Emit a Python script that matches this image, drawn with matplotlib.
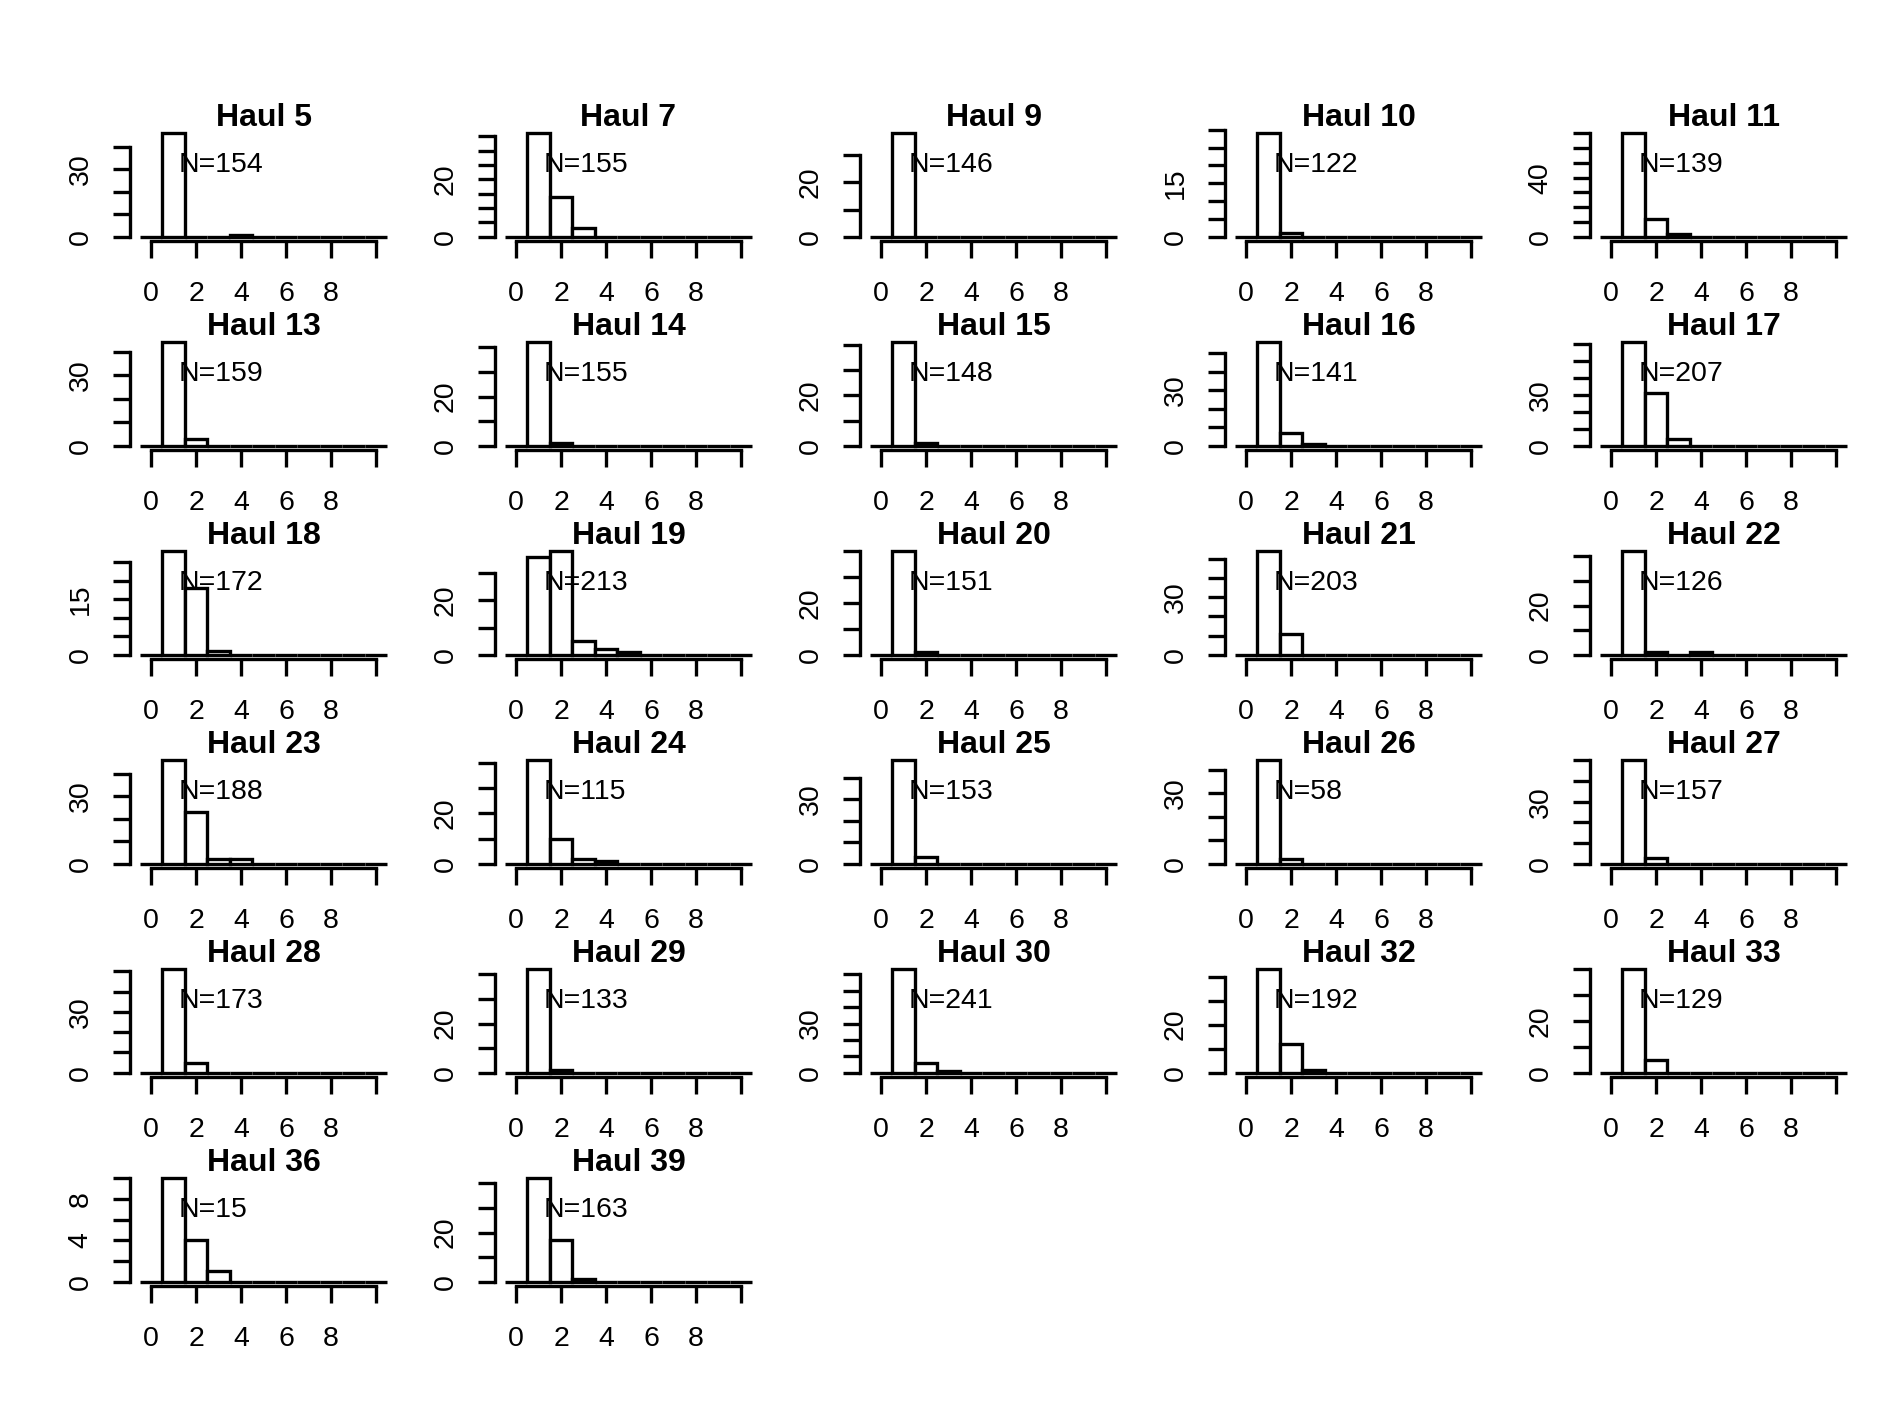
import matplotlib
matplotlib.use("Agg")
import matplotlib.pyplot as plt
import matplotlib.transforms as mtransforms
import numpy as np

plt.rcParams['font.family'] = ['Liberation Sans', 'DejaVu Sans']

hauls = [5, 7, 9, 10, 11, 13, 14, 15, 16, 17, 18, 19, 20, 21, 22,
         23, 24, 25, 26, 27, 28, 29, 30, 32, 33, 36, 39]
n_fish = [154, 155, 146, 122, 139, 159, 155, 148, 141, 207, 172, 213, 151, 203, 126,
          188, 115, 153, 58, 157, 173, 133, 241, 192, 129, 15, 163]
# histogram counts for bins centred on 0, 1, 2, ... (empty trailing bins left off)
counts = [
    [0, 46, 0, 0, 1],
    [0, 36, 14, 3],
    [0, 38],
    [0, 29, 1],
    [0, 70, 12, 2],
    [0, 44, 3],
    [0, 42, 1],
    [0, 41, 1],
    [0, 56, 7, 1],
    [0, 61, 31, 4],
    [0, 28, 18, 1],
    [0, 36, 38, 5, 2, 1],
    [0, 40, 1],
    [0, 54, 11],
    [0, 42, 1, 0, 1],
    [0, 46, 23, 2, 2],
    [0, 41, 10, 2, 1],
    [0, 48, 3],
    [0, 44, 2],
    [0, 50, 3],
    [0, 51, 5],
    [0, 42, 1],
    [0, 63, 6, 1],
    [0, 43, 12, 1],
    [0, 40, 5],
    [0, 10, 4, 1],
    [0, 42, 17, 1],
]
n_bins = 11

W, H, DPI = 1889, 1417, 100
LEFT0, COL_STEP, PW = 130, 365, 267
TOP0, ROW_STEP, PH = 129.2, 209, 111.7
LW = 2.4
FS = 20.5
CHAR_PX = 16.0   # digit advance, pixels
GAP_PX = 23.5    # spacing R keeps between axis labels


def pretty_unit(lo, hi, ndiv=5, h=0.8, h5=1.7):
    # same step choice as R's axis tick algorithm
    cell = (hi - lo) / ndiv
    U = 10 ** np.floor(np.log10(cell))
    unit = U
    if 2 * U - cell < h * (cell - unit):
        unit = 2 * U
        if 5 * U - cell < h5 * (cell - unit):
            unit = 5 * U
            if 10 * U - cell < h * (cell - unit):
                unit = 10 * U
    return unit


def axis_ticks(lo, hi):
    unit = pretty_unit(lo, hi)
    ns = int(np.ceil(lo / unit - 1e-7))
    nu = int(np.floor(hi / unit + 1e-7))
    return [k * unit for k in range(ns, nu + 1)]


def shown_labels(ticks, px_per_unit):
    # R skips labels that would run into the previous one
    out, last = [], None
    for t in ticks:
        w = len(f"{t:g}") * CHAR_PX
        if last is None or (t - last[0]) * px_per_unit >= last[1] / 2 + w / 2 + GAP_PX:
            out.append(t)
            last = (t, w)
    return out


def px(dx, dy, fig):
    return mtransforms.ScaledTranslation(dx / DPI, dy / DPI, fig.dpi_scale_trans)


fig = plt.figure(figsize=(W / DPI, H / DPI), dpi=DPI)

for i, (haul, n, c) in enumerate(zip(hauls, n_fish, counts)):
    r, col = divmod(i, 5)
    left = LEFT0 + COL_STEP * col
    top = TOP0 + ROW_STEP * r
    ax = fig.add_axes([left / W, 1 - (top + PH) / H, PW / W, PH / H])

    vals = np.array(c + [0] * (n_bins - len(c)), dtype=float)
    centers = np.arange(n_bins)
    m = vals.max()
    x0, x1 = -0.5, n_bins - 0.5
    xpad = 0.04 * (x1 - x0)
    ax.set_xlim(x0 - xpad, x1 + xpad)
    ax.set_ylim(-0.04 * m, 1.04 * m)

    ax.bar(centers, vals, width=1.0, facecolor='white', edgecolor='black',
           linewidth=LW, joinstyle='miter')

    xt = axis_ticks(x0 - xpad, x1 + xpad)
    yt = axis_ticks(-0.04 * m, 1.04 * m)
    ax.set_xticks(xt)
    ax.set_yticks(yt)
    ax.tick_params(direction='out', length=11.9, width=LW, color='black',
                   labelbottom=False, labelleft=False)
    for s in ['top', 'right']:
        ax.spines[s].set_visible(False)
    for s in ['left', 'bottom']:
        ax.spines[s].set_linewidth(LW)
    ax.spines['bottom'].set_bounds(xt[0], xt[-1])
    ax.spines['left'].set_bounds(yt[0], yt[-1])

    xppu = PW / (2 * xpad + x1 - x0)
    yppu = PH / (1.08 * m)
    xtr = mtransforms.blended_transform_factory(ax.transData, ax.transAxes)
    for t in shown_labels(xt, xppu):
        ax.text(t, 0, f"{t:g}", transform=xtr + px(0, -60, fig),
                ha='center', va='baseline', fontsize=FS)
    ytr = mtransforms.blended_transform_factory(ax.transAxes, ax.transData)
    for t in shown_labels(yt, yppu):
        ax.text(0, t, f"{t:g}", transform=ytr + px(-42.6, 0, fig),
                rotation=90, rotation_mode='anchor',
                ha='center', va='baseline', fontsize=FS)

    ax.text(0.5, 1, f"Haul {haul}", transform=ax.transAxes + px(0, 3, fig),
            ha='center', va='baseline', fontsize=23, fontweight='bold')
    ax.text(1, 0.7 * m, f"N={n}", transform=ax.transData + px(5.5, -8, fig),
            ha='left', va='baseline', fontsize=FS)

fig.savefig("out.png", dpi=DPI, facecolor='white')
